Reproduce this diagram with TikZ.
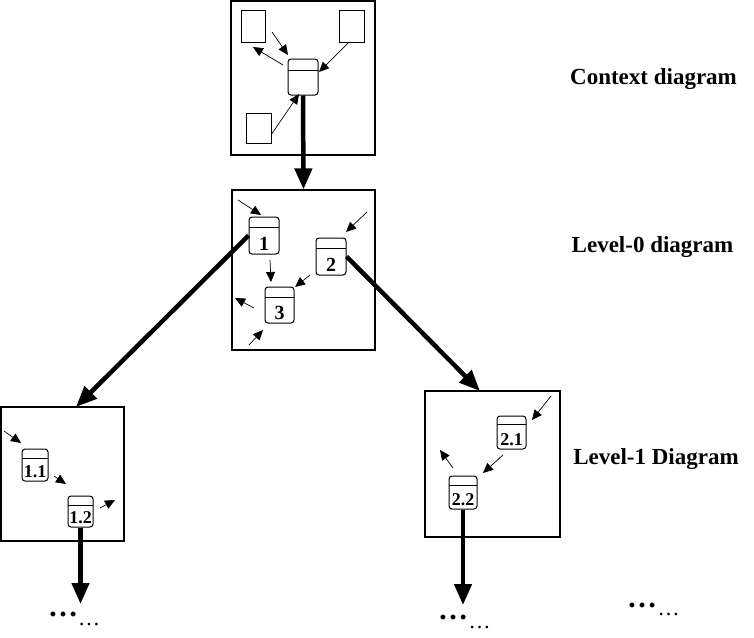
\documentclass[tikz,border=0pt]{standalone}
\usepackage{fontspec}
\setmainfont{Liberation Serif}
\usetikzlibrary{arrows.meta}
\begin{document}
\begin{tikzpicture}[x=1pt,y=-1pt,
  frame/.style={draw, line width=1.2pt, inner sep=0pt},
  entity/.style={draw, line width=1pt, inner sep=0pt},
  proc/.style={draw, line width=1pt, rounded corners=3pt, inner sep=0pt,
    font=\bfseries\fontsize{20}{20}\selectfont, text depth=4pt},
  subproc/.style={proc, font=\bfseries\fontsize{18}{18}\selectfont},
  hdr/.style={path picture={\draw[line width=0.9pt]
    ([yshift=-#1]path picture bounding box.north west) --
    ([yshift=-#1]path picture bounding box.north east);}},
  flow/.style={line width=0.7pt, -{Triangle[length=10pt,width=9pt]}},
  bigflow/.style={line width=4.5pt, -{Triangle[length=21pt,width=17pt]}},
  lbl/.style={font=\bfseries\fontsize{23}{23}\selectfont, anchor=base},
  bigdots/.style={font=\bfseries\fontsize{30}{30}\selectfont, anchor=base, inner sep=0pt},
  smalldots/.style={font=\fontsize{22}{22}\selectfont, anchor=base, inner sep=0pt}]
\useasboundingbox (0,0) rectangle (754,637);

% frames
\node[frame, minimum width=144pt, minimum height=154pt] (ctx) at (303,78) {};
\node[frame, minimum width=143pt, minimum height=160pt] (lz) at (303.5,270) {};
\node[frame, minimum width=123pt, minimum height=134pt] (lwa) at (62.5,474) {};
\node[frame, minimum width=135pt, minimum height=146pt] (lwb) at (492.5,464) {};

% context diagram
\node[entity, minimum width=24pt, minimum height=32pt] (ea) at (253,26) {};
\node[entity, minimum width=25pt, minimum height=32pt] (eb) at (351.5,26) {};
\node[entity, minimum width=25pt, minimum height=30pt] (ec) at (258.5,128) {};
\node[proc, hdr=11pt, minimum width=30pt, text height=32pt] (cp) at (303,77) {};

\coordinate (a1s) at (272,32);  \coordinate (a1e) at (288,55);
\coordinate (a2s) at (283,65);  \coordinate (a2e) at (253,47);
\coordinate (a3s) at (349,42);  \coordinate (a3e) at (319,72);
\coordinate (a4s) at (271,135); \coordinate (a4e) at (299,94);
\draw[flow] (a1s) -- (a1e);
\draw[flow] (a2s) -- (a2e);
\draw[flow] (a3s) -- (a3e);
\draw[flow] (a4s) -- (a4e);

% level-0
\node[proc, hdr=10pt, minimum width=30pt, text height=33pt] (p1) at (264,235.5) {1};
\node[proc, hdr=10pt, minimum width=30pt, text height=33pt] (p2) at (331,256.5) {2};
\node[proc, hdr=10pt, minimum width=29pt, text height=32pt] (p3) at (279.5,305) {3};

\coordinate (b1s) at (238,200); \coordinate (b1e) at (261,215);
\coordinate (b2s) at (367,212); \coordinate (b2e) at (346,232);
\coordinate (b3s) at (270,260); \coordinate (b3e) at (271,282);
\coordinate (b4s) at (310,275); \coordinate (b4e) at (295,287);
\coordinate (b5s) at (254,308); \coordinate (b5e) at (235,298);
\coordinate (b6s) at (249,345); \coordinate (b6e) at (263,330);
\draw[flow] (b1s) -- (b1e);
\draw[flow] (b2s) -- (b2e);
\draw[flow] (b3s) -- (b3e);
\draw[flow] (b4s) -- (b4e);
\draw[flow] (b5s) -- (b5e);
\draw[flow] (b6s) -- (b6e);

% level-1 left
\node[subproc, hdr=9pt, minimum width=26pt, text height=28pt] (p11) at (35,465) {1.1};
\node[subproc, hdr=9pt, minimum width=25pt, text height=27pt] (p12) at (80.5,511.5) {1.2};
\coordinate (c1s) at (4,431);   \coordinate (c1e) at (21,443);
\coordinate (c2s) at (54,476);  \coordinate (c2e) at (66,484);
\coordinate (c3s) at (100,508); \coordinate (c3e) at (115,500);
\draw[flow] (c1s) -- (c1e);
\draw[flow] (c2s) -- (c2e);
\draw[flow] (c3s) -- (c3e);

% level-1 right
\node[subproc, hdr=8pt, minimum width=29pt, text height=29pt] (p21) at (511.5,432.5) {2.1};
\node[subproc, hdr=9pt, minimum width=28pt, text height=29pt] (p22) at (463,492.5) {2.2};
\coordinate (d1s) at (551,396); \coordinate (d1e) at (532,420);
\coordinate (d2s) at (503,455); \coordinate (d2e) at (483,473);
\coordinate (d3s) at (453,468); \coordinate (d3e) at (440,450);
\draw[flow] (d1s) -- (d1e);
\draw[flow] (d2s) -- (d2e);
\draw[flow] (d3s) -- (d3e);

% thick connectors
\coordinate (t2e) at (76,407);
\coordinate (t3e) at (480,391);
\coordinate (t4e) at (80.5,604);
\coordinate (t5e) at (463,605);
\draw[bigflow] (cp.south) -- (lz.north);
\draw[bigflow] (p1.west) -- (t2e);
\draw[bigflow] (p2.east) -- (t3e);
\draw[bigflow] (p12.south) -- (t4e);
\draw[bigflow] (p22.south) -- (t5e);

% labels
\node[lbl] (l0) at (653.5,84) {Context diagram};
\node[lbl] (l1) at (652.5,252) {Level-0 diagram};
\node[lbl] (l2) at (656,464) {Level-1 Diagram};

% dots
\node[bigdots] (da1) at (63,616) {…};
\node[smalldots] (da2) at (89,625.5) {…};
\node[bigdots] (db1) at (453,619) {…};
\node[smalldots] (db2) at (479.5,628.5) {…};
\node[bigdots] (dc1) at (642,607) {…};
\node[smalldots] (dc2) at (668.5,615.5) {…};
\end{tikzpicture}
\end{document}
